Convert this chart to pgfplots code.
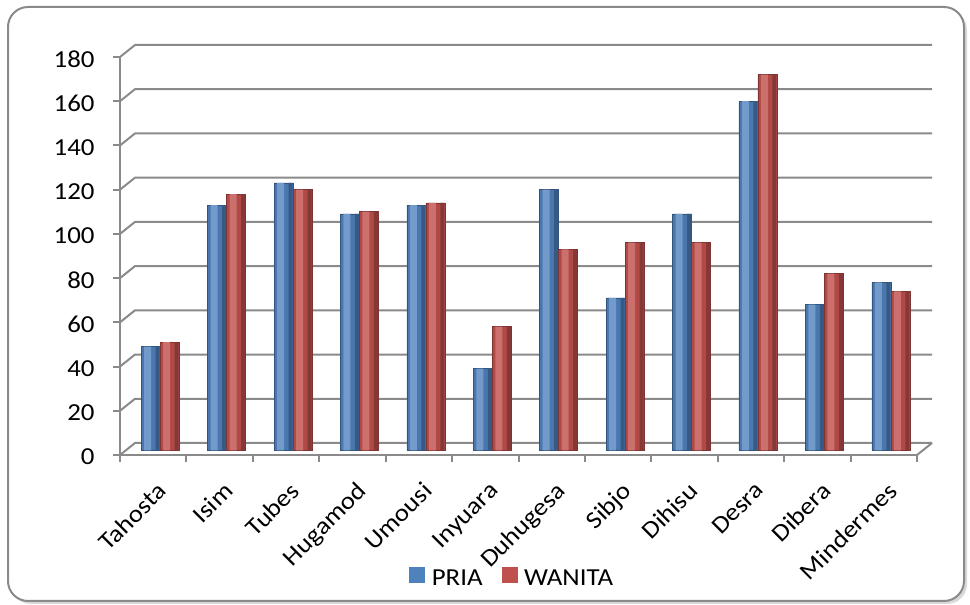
\documentclass[border=0pt]{standalone}
\usepackage{fontspec}
\setmainfont{Carlito}[FakeStretch=1.1]
\usepackage{pgfplots}
\usepackage{pgfplotstable}
\pgfplotsset{compat=1.18}
\definecolor{pria}{HTML}{4F81BD}
\definecolor{wanita}{HTML}{C0504D}
\definecolor{gridc}{HTML}{8A8A8A}

\pgfplotstableread{
idx pria wanita
0 47 49
1 111 116
2 121 118
3 107 108
4 111 112
5 37 56
6 118 91
7 69 94
8 107 94
9 158 170
10 66 80
11 76 72
}\datatable

\begin{document}
\begin{tikzpicture}[x=1bp,y=1bp]
\useasboundingbox (0,0) rectangle (970,605);
\fill[gray!30, rounded corners=20bp] (11,1) rectangle (967,595);
\draw[gridc, line width=2bp, rounded corners=20bp, fill=white] (8,4) rectangle (964,598);
\begin{axis}[
  at={(120bp,150bp)}, anchor=south west,
  scale only axis, width=797bp, height=398bp,
  xmin=-0.5, xmax=11.5, ymin=0, ymax=180,
  clip=false,
  axis lines=left,
  axis line style={gridc, line width=2bp, -},
  tick style={gridc, line width=2bp},
  tick align=outside,
  major tick length=7bp,
  ytick={0,20,...,180},
  xtick={0,...,11},
  x tick style={draw=none},
  xticklabels={Tahosta,Isim,Tubes,Hugamod,Umousi,Inyuara,Duhugesa,Sibjo,Dihisu,Desra,Dibera,Mindermes},
  extra x ticks={-0.5,0.5,...,11.5},
  extra x tick labels={},
  extra x tick style={x tick style={draw=gridc, line width=2bp}, major tick length=7bp},
  /pgf/number format/assume math mode=true,
  every tick label/.append style={font=\fontsize{24.5}{28}\selectfont, text=black},
  yticklabel style={xshift=-15bp, yshift=-2bp},
  xticklabel style={rotate=45, anchor=north east, inner sep=0pt, xshift=-11bp, yshift=-15bp},
  legend style={at={(0.492,-0.309)}, anchor=center, draw=none, fill=none,
    font=\fontsize{24.5}{28}\selectfont, legend columns=-1,
    /tikz/every odd column/.append style={column sep=5bp},
    /tikz/every even column/.append style={column sep=17bp}},
  legend cell align=left,
]
\pgfplotsinvokeforeach{0,20,...,180}{
  \draw[gridc, line width=2bp] (axis cs:-0.5,#1) -- ++(15bp,12bp) -- ([xshift=15bp,yshift=12bp]axis cs:11.5,#1);
}
\draw[gridc, line width=2bp] (axis cs:11.5,0) -- ++(15bp,12bp);
% PRIA
\addplot[ybar, bar width=19bp, bar shift=-2.5bp, yshift=4.5bp,
  draw=pria!65!black, line width=0.6bp, fill=pria!92!black,
  legend image code/.code={\fill[pria] (0bp,-7.5bp) rectangle (15bp,7.5bp);}]
  table[x=idx, y=pria]{\datatable};
\addlegendentry{PRIA}
% WANITA
\addplot[ybar, bar width=19bp, bar shift=16.5bp, yshift=4.5bp,
  draw=wanita!65!black, line width=0.6bp, fill=wanita!92!black,
  legend image code/.code={\fill[wanita] (0bp,-7.5bp) rectangle (15bp,7.5bp);}]
  table[x=idx, y=wanita]{\datatable};
\addlegendentry{WANITA}
% cylinder highlights and shadows (same data)
\addplot[ybar, forget plot, bar width=7bp, bar shift=-5.5bp, yshift=4.5bp, draw=none, fill=pria!80!white]
  table[x=idx, y=pria]{\datatable};
\addplot[ybar, forget plot, bar width=4bp, bar shift=4.5bp, yshift=4.5bp, draw=none, fill=pria!70!black]
  table[x=idx, y=pria]{\datatable};
\addplot[ybar, forget plot, bar width=7bp, bar shift=13.5bp, yshift=4.5bp, draw=none, fill=wanita!82!white]
  table[x=idx, y=wanita]{\datatable};
\addplot[ybar, forget plot, bar width=4bp, bar shift=23.5bp, yshift=4.5bp, draw=none, fill=wanita!70!black]
  table[x=idx, y=wanita]{\datatable};
\end{axis}
\end{tikzpicture}
\end{document}
